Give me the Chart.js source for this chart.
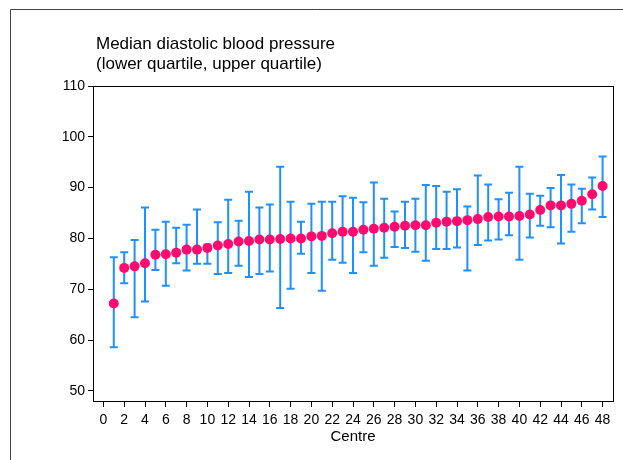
<!DOCTYPE html>
<html>
<head>
<meta charset="utf-8">
<script src="https://cdn.jsdelivr.net/npm/chart.js@4/dist/chart.umd.min.js"></script>
<style>
  html, body { margin: 0; padding: 0; background: #fff; }
  #wrap { width: 623px; height: 460px; position: relative; }
</style>
</head>
<body>
<div id="wrap"><canvas id="bpChart" width="623" height="460"></canvas></div>
<script>
  // centres 1..48, median diastolic BP with lower / upper quartile
  const centres = [1,2,3,4,5,6,7,8,9,10,11,12,13,14,15,16,17,18,19,20,21,22,23,24,
                   25,26,27,28,29,30,31,32,33,34,35,36,37,38,39,40,41,42,43,44,45,46,47,48];
  const medians = [67.2,74.2,74.5,75.1,76.8,76.9,77.2,77.8,77.8,78.1,78.6,78.9,
                   79.4,79.5,79.8,79.8,79.9,80.0,80.0,80.4,80.5,81.0,81.3,81.3,
                   81.7,81.9,82.1,82.3,82.5,82.6,82.6,83.1,83.3,83.4,83.6,83.8,
                   84.2,84.3,84.3,84.4,84.7,85.6,86.5,86.5,86.8,87.4,88.7,90.3];
  const lowerQ  = [58.6,71.2,64.5,67.6,73.8,70.7,75.1,73.7,75.0,75.0,73.0,73.2,
                   74.6,72.4,73.0,73.5,66.3,70.1,77.0,73.2,69.7,75.8,75.2,73.2,
                   77.3,74.6,76.2,78.3,78.1,77.4,75.6,77.9,77.9,78.2,73.7,78.7,
                   79.6,79.8,80.6,75.8,80.2,82.5,82.2,79.0,81.3,83.0,85.7,84.2];
  const upperQ  = [76.3,77.3,79.7,86.1,81.7,83.3,82.1,82.7,85.7,78.8,83.2,87.6,
                   83.5,89.2,86.1,86.7,94.1,87.2,83.3,86.8,87.2,87.2,88.3,88.0,
                   87.1,91.0,87.8,85.3,87.2,87.8,90.5,90.3,89.2,89.7,86.3,92.4,
                   90.6,87.7,89.0,94.1,88.8,88.4,89.9,92.5,90.6,89.8,92.0,96.1];
  const xTicks = [0,2,4,6,8,10,12,14,16,18,20,22,24,26,28,30,32,34,36,38,40,42,44,46,48];
  const yTicks = [50,60,70,80,90,100,110];
  const titleLines = ['Median diastolic blood pressure', '(lower quartile, upper quartile)'];

  const FONT = "'Liberation Sans', Arial, Helvetica, sans-serif";

  // whiskers from lower to upper quartile, drawn under the points
  const errorBars = {
    id: 'errorBars',
    beforeDatasetsDraw(chart) {
      const ctx = chart.ctx, xs = chart.scales.x, ys = chart.scales.y;
      ctx.save();
      ctx.strokeStyle = '#1e90ff';
      ctx.lineWidth = 2;
      centres.forEach((c, i) => {
        const x = xs.getPixelForValue(c);
        const y1 = ys.getPixelForValue(lowerQ[i]);
        const y2 = ys.getPixelForValue(upperQ[i]);
        ctx.beginPath();
        ctx.moveTo(x, y1); ctx.lineTo(x, y2);
        ctx.moveTo(x - 4, y1); ctx.lineTo(x + 4, y1);
        ctx.moveTo(x - 4, y2); ctx.lineTo(x + 4, y2);
        ctx.stroke();
      });
      ctx.restore();
    }
  };

  // outer frame, plot box and the two-line title
  const frame = {
    id: 'frame',
    afterDraw(chart) {
      const ctx = chart.ctx, a = chart.chartArea;
      ctx.save();
      ctx.strokeStyle = '#444';
      ctx.lineWidth = 1;
      ctx.beginPath();
      ctx.moveTo(10.5, 470); ctx.lineTo(10.5, 9.5); ctx.lineTo(630, 9.5);
      ctx.stroke();
      ctx.strokeStyle = '#000';
      ctx.strokeRect(a.left + 0.5, a.top + 0.5, a.right - a.left, a.bottom - a.top);
      ctx.fillStyle = '#000';
      ctx.font = '17px ' + FONT;
      ctx.textBaseline = 'middle';
      ctx.textAlign = 'left';
      ctx.fillText(titleLines[0], 96, 44);
      ctx.fillText(titleLines[1], 96, 64);
      ctx.restore();
    }
  };

  const bpChart = new Chart(document.getElementById('bpChart'), {
    type: 'scatter',
    data: {
      datasets: [{
        label: 'Median',
        data: centres.map((c, i) => ({ x: c, y: medians[i] })),
        backgroundColor: '#ff0a6e',
        borderWidth: 0,
        pointRadius: 5,
        pointHoverRadius: 5
      }]
    },
    options: {
      responsive: false,
      animation: false,
      layout: { padding: { top: 86, right: 10, left: 0, bottom: 0 } },
      plugins: {
        legend: { display: false },
        tooltip: { enabled: false },
        title: { display: false }
      },
      scales: {
        x: {
          type: 'linear',
          min: -1,
          max: 49,
          afterBuildTicks: (s) => { s.ticks = xTicks.map(v => ({ value: v })); },
          afterFit: (s) => { s.height = 59; },
          grid: { display: true, drawOnChartArea: false, tickLength: 6, color: '#000' },
          border: { display: true, color: '#000' },
          ticks: { color: '#000', font: { family: FONT, size: 14 }, padding: 5, maxRotation: 0, autoSkip: false },
          title: { display: true, text: 'Centre', color: '#000', font: { family: FONT, size: 15 }, padding: { top: 0, bottom: 14 } }
        },
        y: {
          min: 48,
          max: 110,
          afterBuildTicks: (s) => { s.ticks = yTicks.map(v => ({ value: v })); },
          afterFit: (s) => { s.width = 93; },
          grid: { display: true, drawOnChartArea: false, tickLength: 5, color: '#000' },
          border: { display: true, color: '#000' },
          ticks: { color: '#000', font: { family: FONT, size: 14 }, padding: 3 }
        }
      }
    },
    plugins: [errorBars, frame]
  });
</script>
</body>
</html>
